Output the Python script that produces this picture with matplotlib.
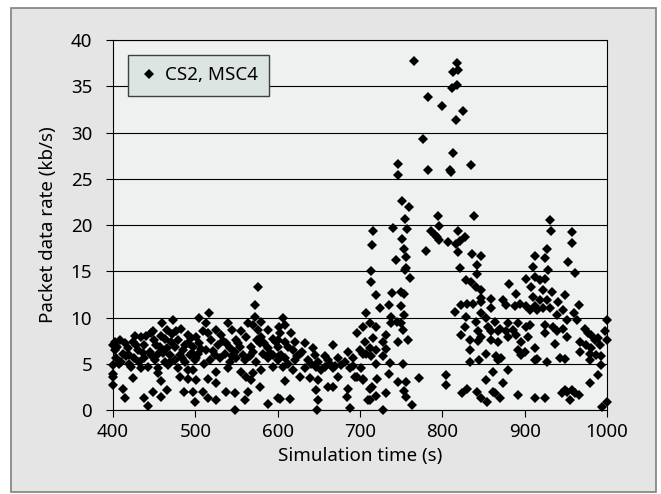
import matplotlib
matplotlib.use("Agg")
import matplotlib.pyplot as plt
from matplotlib.patches import Rectangle

plt.rcParams['font.family'] = ['Noto Sans', 'DejaVu Sans']

# (time s, rate kb/s), grouped by time window
pts_400 = [
    (400, 7.0), (402, 6.5), (400, 4.9), (400, 3.6), (400, 2.7), (400, 3.9), (403, 7.3),
    (404, 5.6), (405, 6.8), (407, 5.0), (408, 7.6), (410, 5.2), (412, 6.1), (412, 2.3),
    (414, 1.3), (415, 7.2), (416, 5.8), (418, 6.7), (419, 5.0), (420, 6.0), (422, 4.7),
    (424, 7.4), (424, 3.5), (426, 5.6), (427, 8.0), (428, 7.0), (430, 6.5), (432, 5.2),
    (434, 7.9), (434, 4.5), (436, 6.2), (438, 7.0), (438, 5.6), (438, 1.3), (440, 8.0),
    (442, 0.4), (442.5, 4.7), (444.5, 6.3), (446, 6.0), (446.6, 8.3), (448, 8.5),
    (448.6, 2.0), (450, 7.6), (450.6, 5.4), (452, 7.0), (454.7, 6.1), (454.7, 4.5),
    (454.7, 4.0), (456.7, 6.8), (458, 8.0), (458.7, 3.1), (458.7, 1.4), (460, 9.4),
    (461, 6.2), (462.8, 5.2), (463, 7.7), (465, 8.6), (465, 6.7), (465, 2.2), (466.8, 4.9),
    (468.8, 5.9), (469, 5.2), (470, 7.4), (472, 8.2), (473, 9.7), (475, 6.8), (475, 5.4),
    (477, 8.5), (479, 7.6), (479, 4.5), (481, 5.9), (481, 3.6), (483, 8.8), (484, 5.6),
    (485, 6.5), (486, 1.9), (487, 5.2), (488, 7.0), (491, 8.1), (491, 7.2), (491, 4.3),
    (491, 3.4), (493, 5.9), (495, 7.8), (496, 6.2), (497, 6.8), (497, 2.0), (499, 5.4),
    (499, 0.9),
]

pts_500 = [
    (497, 4.3), (501, 7.9), (501, 5.6), (501, 3.2), (503, 6.1), (505, 9.9), (505, 7.2),
    (507, 6.6), (509, 8.5), (509, 2.0), (511, 5.0), (513, 9.4), (513, 6.5), (515, 8.3),
    (515.4, 3.4), (515.4, 1.3), (517, 10.5), (517.4, 5.4), (519.5, 7.6), (521, 6.4),
    (523.5, 5.9), (525.5, 8.6), (525.5, 4.1), (525.5, 2.9), (525.5, 1.1), (527.6, 7.0),
    (529.6, 5.6), (531.6, 8.1), (533, 7.5), (535.7, 6.1), (537.7, 7.2), (537.7, 2.0),
    (539.7, 9.4), (539.7, 4.5), (541.7, 6.7), (541.7, 5.2), (544, 8.6), (545, 5.8),
    (547.8, 6.3), (547.8, 1.8), (547.8, 0.0), (549.8, 7.6), (549.8, 5.6), (552, 7.2),
    (554, 6.8), (556, 4.1), (556, 8.5), (558, 5.9), (560, 5.4), (560, 1.1), (562, 7.9),
    (562, 3.6), (564, 9.4), (564, 2.0), (566, 5.8), (568, 6.8), (568, 3.2), (570, 9.2),
    (570, 6.3), (570, 4.0), (572, 11.4), (572, 10.1), (574, 5.2), (575, 7.6), (576, 13.3),
    (576, 8.6), (578, 7.2), (578, 2.5), (580, 7.9), (580, 9.5), (580, 4.3), (582, 6.1),
    (584, 7.2), (588, 8.6), (588, 6.7), (588, 5.6), (588, 0.7), (591, 6.2), (594, 7.7),
    (594, 5.9), (594, 4.7), (598, 7.4), (600, 6.8), (600, 1.3), (602, 9.0), (602, 5.8),
]

pts_600 = [
    (600.4, 7.6), (600.4, 5.4), (602.4, 8.3), (602.4, 1.2), (604.4, 5.9), (606.5, 9.9),
    (606.5, 4.7), (608.5, 9.2), (608.5, 7.4), (608.5, 5.6), (608.5, 3.1), (612, 5.0),
    (612.5, 6.8), (614.6, 1.2), (616.6, 8.3), (618.6, 6.5), (618.6, 4.3), (620.6, 7.4),
    (620.6, 5.4), (624, 5.8), (626.7, 6.1), (626.7, 3.6), (630, 6.3), (632.8, 7.2),
    (632.8, 4.5), (636.8, 5.4), (638.9, 3.5), (640, 5.0), (643, 6.7), (645, 5.9),
    (647, 4.7), (647, 2.2), (648, 0.0), (649, 5.2), (649, 3.2), (649, 1.1), (653, 4.3),
    (657, 5.8), (657, 4.7), (661, 5.4), (661, 2.5), (664, 5.0), (667.2, 7.0), (667.2, 4.5),
    (667.6, 2.5), (670, 4.8), (673.3, 5.6), (673.3, 3.6), (677, 4.9), (681.4, 5.2),
    (683.8, 1.4), (685.4, 6.3), (685.4, 2.3), (687.4, 4.5), (687.4, 0.2), (691.5, 5.6),
    (692, 4.8), (693.5, 3.6), (696, 8.3), (696, 3.6), (699.6, 6.5), (701.6, 4.5),
    (703.6, 3.4), (705.7, 7.4), (707.7, 10.5), (707.7, 6.1), (709.7, 1.1),
]

pts_700 = [
    (703.7, 9.0), (703.7, 6.1), (703.7, 3.2), (711.8, 9.4), (711.8, 6.7), (711.8, 1.1),
    (712, 2.3), (713.7, 15.0), (713.7, 13.8), (713.7, 5.8), (715, 2.5), (715.8, 7.8),
    (716, 19.3), (715, 17.8), (720, 12.4), (720, 9.0), (720, 6.5), (720, 5.0), (720, 1.5),
    (721, 3.4), (724, 11.0), (728, 7.4), (728, 5.8), (728, 0.0), (732, 8.1), (732, 6.6),
    (732, 1.8), (735, 11.4), (735, 3.9), (736, 5.1), (738, 10.1), (738, 9.4), (738.5, 12.7),
    (740, 19.7), (744, 16.2), (744.6, 9.5), (746, 7.3), (746, 3.0), (746, 26.6), (746, 25.4),
    (749.5, 12.8), (749.5, 11.2), (750, 9.4), (750.5, 18.5), (751, 22.6), (752, 8.6),
    (752, 5.0), (753, 2.1), (753.5, 10.3), (754, 17.4), (754, 12.5), (754.6, 20.7),
    (754.6, 15.1), (755.5, 16.5), (756, 15.4), (756, 3.0), (756, 1.4), (757, 19.6),
    (758, 7.6), (760, 21.9), (761, 14.3), (763.5, 0.5), (765, 37.7), (771.7, 3.5),
]

pts_770 = [
    (776.5, 29.3), (779.7, 17.2), (782, 33.8), (782.6, 25.9), (786.6, 19.4), (790.6, 18.9),
    (793, 18.7), (795, 21.0), (796, 19.9), (796, 18.4), (800, 32.9), (804, 3.8), (804, 2.7),
    (807, 18.2), (809, 25.9), (811, 25.7), (812, 34.8), (813, 36.5), (813, 27.8),
    (815, 10.6), (816.6, 31.4), (816.6, 18.0), (818, 35.1), (818, 37.5), (819, 36.8),
    (818.6, 19.3), (819, 17.1), (821.5, 18.3), (821, 15.3), (823, 11.4), (823, 8.1),
    (823.5, 1.8), (824.8, 32.3), (827.6, 18.7), (829, 14.1), (829, 10.1), (827, 9.0),
    (829.6, 2.3), (830, 11.5), (833, 7.6), (833, 6.5), (833, 5.2), (834.5, 26.5),
    (835, 13.8), (836.4, 16.9), (837, 11.5), (838.5, 21.0), (841, 13.3), (841, 9.5),
    (841.7, 2.0), (842.4, 15.7), (842.4, 14.7), (843, 8.5), (843, 7.5), (845, 5.4),
    (847, 16.6), (847, 13.0), (847, 12.1), (847, 11.7), (847, 10.5), (847, 7.9), (847, 1.3),
    (853, 9.9), (853, 6.1), (853, 3.2), (853.9, 0.9), (855.5, 9.0),
]

pts_860 = [
    (858.6, 12.0), (859, 11.0), (859, 8.5), (859, 7.6), (861.5, 4.1), (862, 2.0),
    (863.6, 9.5), (863.6, 1.8), (865.5, 5.8), (867.6, 8.5), (867.6, 7.4), (867.6, 5.4),
    (869.7, 8.8), (869.7, 1.3), (871.5, 5.6), (873.7, 11.9), (873.7, 2.9), (877.7, 11.4),
    (877.7, 8.5), (880, 9.4), (880, 7.9), (880, 4.3), (881, 13.6), (886, 8.6), (888, 11.2),
    (889, 12.5), (890, 8.1), (892, 9.4), (892, 6.5), (892, 1.6), (894, 11.5), (896, 7.4),
    (896, 5.9), (900, 6.3), (902, 14.2), (902, 11.2), (902, 9.0), (904, 7.9), (906, 10.8),
    (906.5, 9.2), (908, 13.3), (910.6, 15.5), (910.6, 12.2), (912, 11.2), (912, 6.7),
    (912, 5.4), (912.6, 14.4), (913, 16.6), (913, 1.3), (914.6, 10.8), (914.6, 5.5),
    (918.7, 14.1), (918.7, 11.9), (922.7, 13.0), (922.7, 11.0), (925, 16.4), (925, 14.2),
    (925, 9.2), (925, 8.3), (924.6, 1.3), (927, 17.4), (927, 11.9), (927, 5.2),
    (928.7, 15.1), (931, 20.5), (931.6, 19.3), (931, 11.0), (932.8, 12.8), (935, 9.0),
    (937, 7.1), (939, 10.3), (939, 8.5), (941, 11.7), (943, 5.6), (944.9, 1.8),
    (947, 10.8), (947, 8.8), (949, 12.4), (949, 5.5), (949, 2.2), (951, 9.7), (951, 7.9),
    (951, 2.0), (953, 16.0), (955, 1.1), (957, 19.2), (957, 18.1), (957, 2.2),
    (959.4, 10.5), (961, 14.8), (961, 1.8), (963.4, 9.7), (965.4, 11.4), (965.4, 1.6),
    (967, 7.4), (967, 6.3), (973, 8.8), (975, 7.0), (977, 8.3), (979, 6.1), (979, 5.4),
    (979, 2.9), (981, 8.1), (981, 6.7), (985, 7.6), (987, 5.9), (989, 7.8), (989, 3.8),
    (991, 7.0), (993, 5.8), (993, 4.9), (993.6, 0.3), (997.6, 8.5), (999.7, 9.7),
    (999.7, 7.6), (999.7, 0.9),
]

series_label = "CS2, MSC4"
x_ticks = [400, 500, 600, 700, 800, 900, 1000]
y_ticks = [0, 5, 10, 15, 20, 25, 30, 35, 40]

points = pts_400 + pts_500 + pts_600 + pts_700 + pts_770 + pts_860
t = [p[0] for p in points]
rate = [p[1] for p in points]

fig = plt.figure(figsize=(6.61, 4.94), dpi=100)
fig.patch.set_facecolor("white")
# outer grey panel with border
fig.patches.append(Rectangle((11 / 661, 2 / 494), 645 / 661, 484 / 494,
                             transform=fig.transFigure, facecolor="#e5e5e5",
                             edgecolor="#808080", linewidth=1.2, zorder=-10))

ax = fig.add_axes([113 / 661, 84 / 494, 494 / 661, 370 / 494])
ax.set_zorder(1)
ax.set_facecolor("#eef1f0")

for y in y_ticks:
    ax.axhline(y, color="black", linewidth=0.8, zorder=1)

ax.plot(t, rate, linestyle="none", marker="D", markersize=4.7,
        markeredgewidth=0, color="black", label=series_label, zorder=3, clip_on=False)

ax.set_xlim(400, 1000)
ax.set_ylim(0, 40)
ax.set_xticks(x_ticks)
ax.set_yticks(y_ticks)
ax.tick_params(direction="out", length=5, width=0.8, labelsize=13.5)
ax.tick_params(axis="y", pad=10)
ax.tick_params(axis="x", pad=4)
for s in ax.spines.values():
    s.set_color("black")
    s.set_linewidth(0.8)

ax.set_xlabel("Simulation time (s)", fontsize=13.5, labelpad=5)
ax.set_ylabel("Packet data rate (kb/s)", fontsize=13.5, labelpad=10)

leg = ax.legend(loc="upper left", bbox_to_anchor=(0.03, 0.96), fontsize=13.5,
                frameon=True, fancybox=False, borderpad=0.62, handletextpad=0.35,
                handlelength=1.0, borderaxespad=0)
leg.get_frame().set_facecolor("#dde5e3")
leg.get_frame().set_edgecolor("#404040")
leg.get_frame().set_linewidth(1.0)
leg.get_frame().set_alpha(1)

fig.savefig("out.png", dpi=100)
